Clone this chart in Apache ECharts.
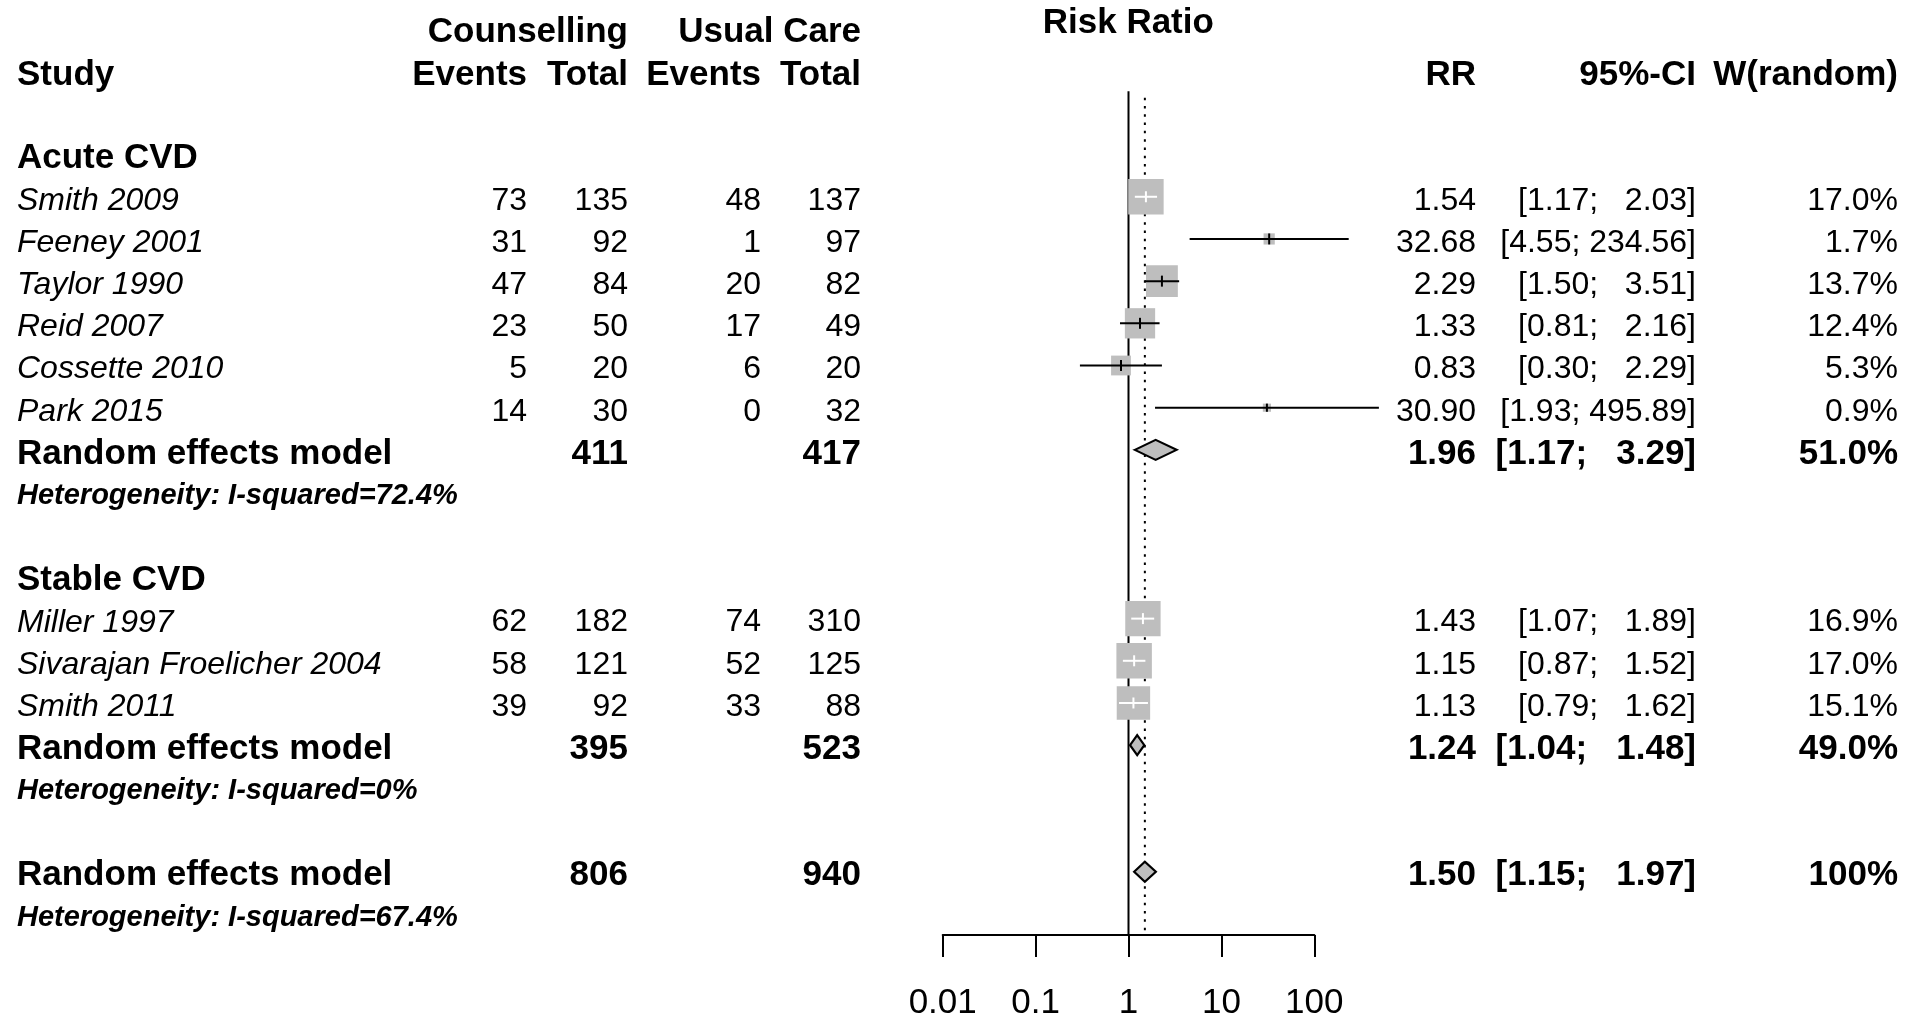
<!DOCTYPE html>
<html>
<head>
<meta charset="utf-8">
<script src="https://cdn.jsdelivr.net/npm/echarts@6/dist/echarts.min.js"></script>
<style>
  html, body { margin: 0; padding: 0; background: #ffffff; }
  #chart { width: 1923px; height: 1021px; }
</style>
</head>
<body>
<div id="chart"></div>
<script>
// ---- Acute CVD trials ----
const acuteStudies = ['Smith 2009', 'Feeney 2001', 'Taylor 1990', 'Reid 2007', 'Cossette 2010', 'Park 2015'];
const acuteEventsCounselling = [73, 31, 47, 23, 5, 14];
const acuteTotalCounselling = [135, 92, 84, 50, 20, 30];
const acuteEventsUsual = [48, 1, 20, 17, 6, 0];
const acuteTotalUsual = [137, 97, 82, 49, 20, 32];
const acuteRR = [1.54, 32.68, 2.29, 1.33, 0.83, 30.90];
const acuteLower = [1.17, 4.55, 1.50, 0.81, 0.30, 1.93];
const acuteUpper = [2.03, 234.56, 3.51, 2.16, 2.29, 495.89];
const acuteWeight = [17.0, 1.7, 13.7, 12.4, 5.3, 0.9];

// ---- Stable CVD trials ----
const stableStudies = ['Miller 1997', 'Sivarajan Froelicher 2004', 'Smith 2011'];
const stableEventsCounselling = [62, 58, 39];
const stableTotalCounselling = [182, 121, 92];
const stableEventsUsual = [74, 52, 33];
const stableTotalUsual = [310, 125, 88];
const stableRR = [1.43, 1.15, 1.13];
const stableLower = [1.07, 0.87, 0.79];
const stableUpper = [1.89, 1.52, 1.62];
const stableWeight = [16.9, 17.0, 15.1];

// ---- Random effects pooled estimates: acute, stable, overall ----
const pooledTotalCounselling = [411, 395, 806];
const pooledTotalUsual = [417, 523, 940];
const pooledRR = [1.96, 1.24, 1.50];
const pooledLower = [1.17, 1.04, 1.15];
const pooledUpper = [3.29, 1.48, 1.97];
const pooledWeight = [51.0, 49.0, 100];
const heterogeneityI2 = [72.4, 0, 67.4];

// ---- x axis ----
const tickValues = [0.01, 0.1, 1, 10, 100];
const tickLabels = ['0.01', '0.1', '1', '10', '100'];

// ---- layout ----
const FONT = '"Liberation Sans", Arial, Helvetica, sans-serif';
const fReg = '32px ' + FONT;
const fIt = 'italic 32px ' + FONT;
const fBold = 'bold 35px ' + FONT;
const fHet = 'bold italic 29px ' + FONT;
const colX = { study: 17, evC: 527, totC: 628, evU: 761, totU: 861, rr: 1476, ci: 1696, w: 1898 };
const TEXT_DY = 4;

const fmt2 = v => v.toFixed(2);
function fmtCI(lo, hi) {
  return '[' + fmt2(lo) + '; ' + fmt2(hi).padStart(6, ' ') + ']';
}
const fmtW = w => (w >= 100 ? String(w) : w.toFixed(1)) + '%';

// Build the row list (row index is the y-axis value)
const rows = [];
const studyMarks = [];
const pooledMarks = [];

function addGroup(title, names, ec, tc, eu, tu, rr, lo, hi, w, startRow, pIdx) {
  let r = startRow;
  rows.push({ row: r++, kind: 'heading', label: title });
  names.forEach((n, i) => {
    rows.push({ row: r, kind: 'study', label: n, ec: ec[i], tc: tc[i], eu: eu[i], tu: tu[i], rr: rr[i], lo: lo[i], hi: hi[i], w: w[i] });
    studyMarks.push([rr[i], r, lo[i], hi[i], w[i]]);
    r++;
  });
  rows.push({ row: r, kind: 'pooled', label: 'Random effects model', tc: pooledTotalCounselling[pIdx], tu: pooledTotalUsual[pIdx], rr: pooledRR[pIdx], lo: pooledLower[pIdx], hi: pooledUpper[pIdx], w: pooledWeight[pIdx] });
  pooledMarks.push([pooledRR[pIdx], r, pooledLower[pIdx], pooledUpper[pIdx]]);
  r++;
  rows.push({ row: r, kind: 'het', label: 'Heterogeneity: I-squared=' + heterogeneityI2[pIdx] + '%' });
  return r + 2;
}

let next = addGroup('Acute CVD', acuteStudies, acuteEventsCounselling, acuteTotalCounselling, acuteEventsUsual, acuteTotalUsual, acuteRR, acuteLower, acuteUpper, acuteWeight, -1, 0);
next = addGroup('Stable CVD', stableStudies, stableEventsCounselling, stableTotalCounselling, stableEventsUsual, stableTotalUsual, stableRR, stableLower, stableUpper, stableWeight, next, 1);
rows.push({ row: next, kind: 'pooled', label: 'Random effects model', tc: pooledTotalCounselling[2], tu: pooledTotalUsual[2], rr: pooledRR[2], lo: pooledLower[2], hi: pooledUpper[2], w: pooledWeight[2] });
pooledMarks.push([pooledRR[2], next, pooledLower[2], pooledUpper[2]]);
rows.push({ row: next + 1, kind: 'het', label: 'Heterogeneity: I-squared=' + heterogeneityI2[2] + '%' });

const Y_MIN = -2.5, Y_MAX = 17.5;

function txt(text, x, y, font, align) {
  return { type: 'text', style: { text: String(text), x: x, y: y, font: font, fill: '#000', align: align, verticalAlign: 'middle' } };
}

const chart = echarts.init(document.getElementById('chart'), null, { renderer: 'canvas' });

chart.setOption({
  animation: false,
  backgroundColor: '#ffffff',
  grid: { left: 942.7, right: 608.7, top: 91.3, bottom: 81.7 },
  xAxis: {
    type: 'log', logBase: 10, min: 0.01, max: 100,
    axisLine: { show: true, onZero: false, lineStyle: { color: '#000', width: 2 } },
    axisTick: { show: true, length: 22, inside: false, lineStyle: { color: '#000', width: 2 } },
    axisLabel: {
      color: '#000', fontSize: 35, fontFamily: FONT, margin: 51,
      formatter: v => {
        const i = tickValues.findIndex(t => Math.abs(Math.log10(t) - Math.log10(v)) < 1e-6);
        return i >= 0 ? tickLabels[i] : '';
      }
    },
    splitLine: { show: false },
    minorTick: { show: false }
  },
  yAxis: { type: 'value', min: Y_MIN, max: Y_MAX, inverse: true, show: false },
  graphic: [
    txt('Counselling', colX.totC, 32, fBold, 'right'),
    txt('Usual Care', colX.totU, 32, fBold, 'right'),
    txt('Risk Ratio', 1128.3, 23, fBold, 'center'),
    txt('Study', colX.study, 75, fBold, 'left'),
    txt('Events', colX.evC, 75, fBold, 'right'),
    txt('Total', colX.totC, 75, fBold, 'right'),
    txt('Events', colX.evU, 75, fBold, 'right'),
    txt('Total', colX.totU, 75, fBold, 'right'),
    txt('RR', colX.rr, 75, fBold, 'right'),
    txt('95%-CI', colX.ci, 75, fBold, 'right'),
    txt('W(random)', colX.w, 75, fBold, 'right')
  ],
  series: [
    {
      // line of no effect
      type: 'line', silent: true, z: 1, symbol: 'none',
      data: [[1, Y_MIN], [1, Y_MAX]],
      lineStyle: { color: '#000', width: 2 }
    },
    {
      // overall pooled estimate reference
      type: 'line', silent: true, z: 1, symbol: 'none',
      data: [[pooledRR[2], -2.35], [pooledRR[2], Y_MAX]],
      lineStyle: { color: '#000', width: 2, type: [2.5, 5.8] }
    },
    {
      // individual studies: weighted box + confidence interval
      type: 'custom', z: 2, clip: false, silent: true,
      data: studyMarks,
      renderItem: function (params, api) {
        const est = api.coord([api.value(0), api.value(1)]);
        const lo = api.coord([api.value(2), api.value(1)]);
        const hi = api.coord([api.value(3), api.value(1)]);
        const size = 8.6 * Math.sqrt(api.value(4));
        const inside = lo[0] >= est[0] - size / 2 && hi[0] <= est[0] + size / 2;
        const lineColor = inside ? '#ffffff' : '#000000';
        const tickH = Math.min(11, size);
        return {
          type: 'group',
          children: [
            { type: 'rect', shape: { x: est[0] - size / 2, y: est[1] - size / 2, width: size, height: size }, style: { fill: '#bebebe' } },
            { type: 'line', shape: { x1: lo[0], y1: est[1], x2: hi[0], y2: est[1] }, style: { stroke: lineColor, lineWidth: 2 } },
            { type: 'line', shape: { x1: est[0], y1: est[1] - tickH / 2, x2: est[0], y2: est[1] + tickH / 2 }, style: { stroke: lineColor, lineWidth: 2 } }
          ]
        };
      }
    },
    {
      // pooled estimates: diamonds
      type: 'custom', z: 3, clip: false, silent: true,
      data: pooledMarks,
      renderItem: function (params, api) {
        const est = api.coord([api.value(0), api.value(1)]);
        const lo = api.coord([api.value(2), api.value(1)]);
        const hi = api.coord([api.value(3), api.value(1)]);
        const h = 10;
        return {
          type: 'polygon',
          shape: { points: [[lo[0], est[1]], [est[0], est[1] - h], [hi[0], est[1]], [est[0], est[1] + h]] },
          style: { fill: '#bebebe', stroke: '#000', lineWidth: 2.2, lineJoin: 'miter' }
        };
      }
    },
    {
      // table columns
      type: 'custom', z: 4, clip: false, silent: true,
      data: rows.map(r => [1, r.row]),
      renderItem: function (params, api) {
        const r = rows[params.dataIndex];
        const y = api.coord([1, api.value(1)])[1] + TEXT_DY;
        const c = [];
        if (r.kind === 'heading') {
          c.push(txt(r.label, colX.study, y, fBold, 'left'));
        } else if (r.kind === 'het') {
          c.push(txt(r.label, colX.study, y, fHet, 'left'));
        } else if (r.kind === 'study') {
          c.push(txt(r.label, colX.study, y, fIt, 'left'));
          c.push(txt(r.ec, colX.evC, y, fReg, 'right'));
          c.push(txt(r.tc, colX.totC, y, fReg, 'right'));
          c.push(txt(r.eu, colX.evU, y, fReg, 'right'));
          c.push(txt(r.tu, colX.totU, y, fReg, 'right'));
          c.push(txt(fmt2(r.rr), colX.rr, y, fReg, 'right'));
          c.push(txt(fmtCI(r.lo, r.hi), colX.ci, y, fReg, 'right'));
          c.push(txt(fmtW(r.w), colX.w, y, fReg, 'right'));
        } else if (r.kind === 'pooled') {
          c.push(txt(r.label, colX.study, y, fBold, 'left'));
          c.push(txt(r.tc, colX.totC, y, fBold, 'right'));
          c.push(txt(r.tu, colX.totU, y, fBold, 'right'));
          c.push(txt(fmt2(r.rr), colX.rr, y, fBold, 'right'));
          c.push(txt(fmtCI(r.lo, r.hi), colX.ci, y, fBold, 'right'));
          c.push(txt(fmtW(r.w), colX.w, y, fBold, 'right'));
        }
        return { type: 'group', children: c };
      }
    }
  ]
});
</script>
</body>
</html>
